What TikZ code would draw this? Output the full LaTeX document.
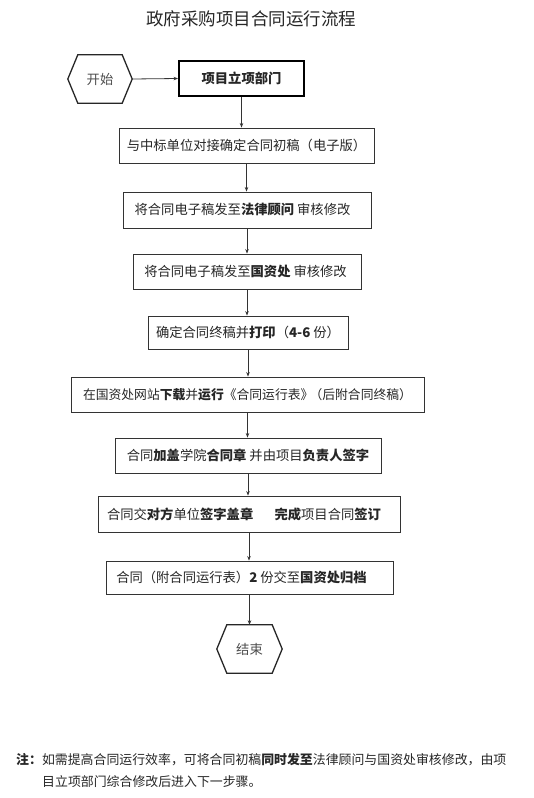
\documentclass[tikz,border=0pt]{standalone}
\usepackage{fontspec}
\setmainfont{Noto Sans CJK SC}
\usetikzlibrary{arrows.meta}
% hexagon frame round a named node
\newcommand{\hexframe}[1]{\draw[line width=1.3pt,black!85] (#1.west) -- ([xshift=10pt]#1.north west) -- ([xshift=-10pt]#1.north east) -- (#1.east) -- ([xshift=-10pt]#1.south east) -- ([xshift=10pt]#1.south west) -- cycle;}
\begin{document}
\begin{tikzpicture}[x=1pt,y=-1pt,every node/.style={font=\fontsize{13.3}{16}\selectfont,text=black!85},
  stepbox/.style={draw=black!80,line width=0.9pt,inner sep=0pt,minimum height=35pt},
  endbox/.style={inner sep=0pt,minimum width=64pt,minimum height=48pt,text=black!70},
  flow/.style={draw=black!80,line width=0.8pt,-{Stealth[length=4.5pt,width=3.5pt]}}]
\useasboundingbox (0,0) rectangle (534,798);
\node (title) at (251,18.5) {\fontsize{17.5}{20}\selectfont 政府采购项目合同运行流程};
% start and first box
\node[endbox] (start) at (100,79) {开始};
\hexframe{start}
\node[stepbox,draw=black,line width=2pt,minimum width=125pt] (dept) at (241.5,78.5) {\textbf{项目立项部门}};
% steps
\node[stepbox,minimum width=255pt] (draft) at (246.5,145.5) {与中标单位对接确定合同初稿（电子版）};
\node[stepbox,minimum width=248pt,minimum height=36pt] (legal) at (247,210) {将合同电子稿发至\textbf{法律顾问} 审核修改\hspace*{9pt}};
\node[stepbox,minimum width=228pt] (office) at (247,271.5) {将合同电子稿发至\textbf{国资处} 审核修改\hspace*{3pt}};
\node[stepbox,minimum width=200pt,minimum height=33pt] (print) at (248,332.5) {确定合同终稿并\textbf{打印}（\textbf{4-6} 份）};
\node[stepbox,minimum width=353pt,font=\fontsize{12.8}{16}\selectfont] (sheet) at (247.5,394.5) {在国资处网站\textbf{下载}并\textbf{运行}《合同运行表》\hspace{-0.3em}（后附合同终稿）};
\node[stepbox,minimum width=266pt] (seal) at (248,455.5) {合同\textbf{加盖}学院\textbf{合同章} 并由项目\textbf{负责人签字}};
\node[stepbox,minimum width=302pt,minimum height=36pt] (sign) at (249,514) {合同交\textbf{对方}单位\textbf{签字盖章}\hspace{1.6em}\textbf{完成}项目合同\textbf{签订}\hspace*{10pt}};
\node[stepbox,minimum width=287pt,minimum height=33pt] (archive) at (249.5,577.5) {合同（附合同运行表）\textbf{2} 份交至\textbf{国资处归档}\hspace*{16pt}};
\node[endbox,minimum width=65pt] (end) at (249.5,649) {结束};
\hexframe{end}
% arrows
\draw[flow] (start.east) -- (dept.west);
\draw[flow] (dept.south) -- (dept.south |- draft.north);
\draw[flow] (draft.south) -- (draft.south |- legal.north);
\draw[flow] (legal.south) -- (legal.south |- office.north);
\draw[flow] (office.south) -- (office.south |- print.north);
\draw[flow] (print.south) -- (print.south |- sheet.north);
\draw[flow] (sheet.south) -- (sheet.south |- seal.north);
\draw[flow] (seal.south) -- (seal.south |- sign.north);
\draw[flow] (sign.south) -- (sign.south |- archive.north);
\draw[flow] (archive.south) -- (archive.south |- end.north);
% note
\node[anchor=west,inner sep=0pt,font=\fontsize{12.9}{15}\selectfont] (note1) at (16,760) {\textbf{注：}如需提高合同运行效率，可将合同初稿\textbf{同时发至}法律顾问与国资处审核修改，由项};
\node[anchor=west,inner sep=0pt,font=\fontsize{12.9}{15}\selectfont] (note2) at (42,782) {目立项部门综合修改后进入下一步骤。};
\end{tikzpicture}
\end{document}
